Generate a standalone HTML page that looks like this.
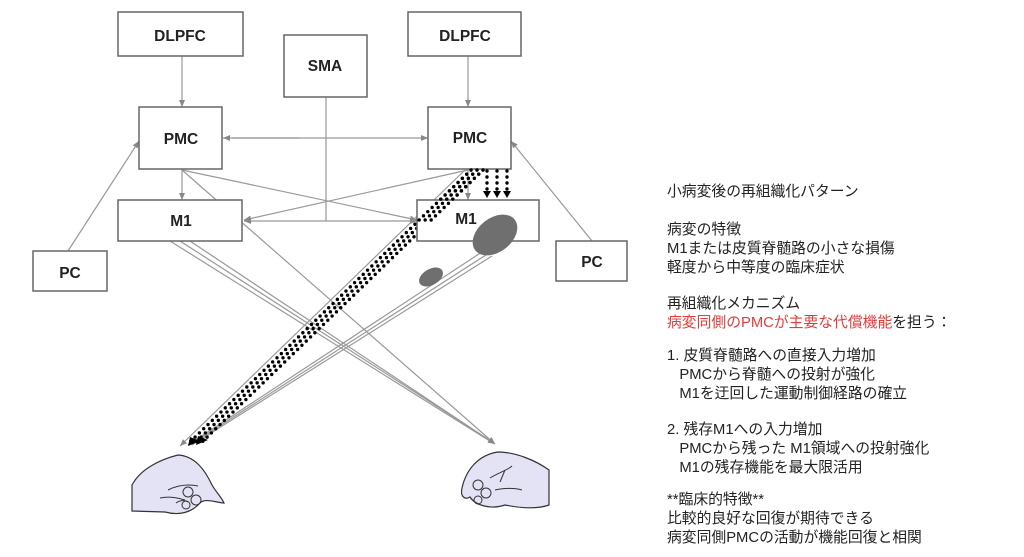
<!DOCTYPE html>
<html><head><meta charset="utf-8"><style>
body{margin:0;background:#fff;width:1024px;height:557px;overflow:hidden;position:relative;font-family:"Liberation Sans","Noto Sans CJK JP",sans-serif}
.t{position:absolute;left:667px;font-size:14.8px;color:#222;line-height:19px;white-space:nowrap}
</style></head><body>
<svg width="1024" height="557" style="position:absolute;left:0;top:0">
<defs>
<marker id="a" markerWidth="8" markerHeight="8" refX="7" refY="4" orient="auto" markerUnits="userSpaceOnUse"><path d="M0,1 L7,4 L0,7z" fill="#888"/></marker>
</defs>
<g stroke="#999" stroke-width="1.2" fill="none">
<line x1="182" y1="56" x2="182" y2="107" marker-end="url(#a)"/>
<line x1="468" y1="56" x2="468" y2="107" marker-end="url(#a)"/>
<line x1="232" y1="138" x2="428" y2="138" marker-end="url(#a)"/>
<line x1="300" y1="138" x2="223" y2="138" marker-end="url(#a)"/>
<line x1="326" y1="97" x2="326" y2="221"/>
<line x1="326" y1="221" x2="244" y2="221" marker-end="url(#a)"/>
<line x1="326" y1="221" x2="417" y2="221" marker-end="url(#a)"/>
<line x1="182" y1="169" x2="182" y2="200" marker-end="url(#a)"/>
<line x1="468" y1="169" x2="468" y2="200" marker-end="url(#a)"/>
<line x1="182" y1="170" x2="417" y2="220" marker-end="url(#a)"/>
<line x1="468" y1="170" x2="244" y2="220" marker-end="url(#a)"/>
<line x1="68" y1="251" x2="139" y2="141" marker-end="url(#a)"/>
<line x1="592" y1="241" x2="511" y2="141" marker-end="url(#a)"/>
<line x1="182" y1="170" x2="495" y2="444" marker-end="url(#a)"/>
<line x1="170" y1="241" x2="493" y2="443"/>
<line x1="180" y1="241" x2="494" y2="443"/>
<line x1="190" y1="241" x2="495" y2="444" marker-end="url(#a)"/>
<line x1="465" y1="170" x2="180" y2="446" marker-end="url(#a)"/>
<line x1="485" y1="250" x2="188" y2="445"/>
<line x1="489" y1="253" x2="190" y2="445"/>
<line x1="492" y1="256" x2="192" y2="445"/>
</g>
<g stroke="#000" stroke-width="3.4" stroke-linecap="round" stroke-dasharray="0 6" fill="none">
<line x1="471" y1="170" x2="190" y2="442"/>
<line x1="477" y1="170" x2="196" y2="442"/>
<line x1="483" y1="170" x2="202" y2="442"/>
</g>
<path d="M190,437 L200,441 L188,446z M198,436 L208,440 L196,445z" fill="#000"/>
<g stroke="#666" stroke-width="1.5" fill="#fff">
<rect x="118" y="12" width="125" height="44"/>
<rect x="408" y="12" width="113" height="44"/>
<rect x="284" y="35" width="83" height="62"/>
<rect x="139" y="107" width="83" height="62"/>
<rect x="428" y="107" width="83" height="62"/>
<rect x="118" y="200" width="124" height="41"/>
<rect x="417" y="200" width="122" height="41"/>
<rect x="33" y="251" width="74" height="40"/>
<rect x="556" y="241" width="71" height="40"/>
</g>
<g stroke="#000" stroke-width="3.4" stroke-linecap="round" stroke-dasharray="0 6" fill="none">
<line x1="471" y1="170" x2="415" y2="224"/>
<line x1="477" y1="170" x2="421" y2="224"/>
<line x1="483" y1="170" x2="427" y2="224"/>
<line x1="487" y1="171" x2="487" y2="190"/>
<line x1="497" y1="171" x2="497" y2="190"/>
<line x1="507" y1="171" x2="507" y2="190"/>
</g>
<path d="M483,191 L491,191 L487,198z M493,191 L501,191 L497,198z M503,191 L511,191 L507,198z" fill="#000"/>
<ellipse cx="495" cy="235" rx="25" ry="17" transform="rotate(-38 495 235)" fill="#6f6f6f"/>
<ellipse cx="431" cy="277" rx="13" ry="8" transform="rotate(-30 431 277)" fill="#6f6f6f"/>
<g font-family="Liberation Sans, sans-serif" font-size="15.5" font-weight="bold" fill="#222" text-anchor="middle">
<text x="180" y="41">DLPFC</text>
<text x="465" y="41">DLPFC</text>
<text x="325" y="71">SMA</text>
<text x="181" y="144">PMC</text>
<text x="470" y="143">PMC</text>
<text x="181" y="226">M1</text>
<text x="466" y="224">M1</text>
<text x="70" y="278">PC</text>
<text x="592" y="267">PC</text>
</g>
<g stroke="#333" stroke-width="1.2" fill="#e4e3f6">
<path d="M132,485 C140,470 158,460 178,455 C195,456 205,470 212,485 C216,492 222,498 224,503 C214,502 205,498 200,503 C192,512 180,516 165,512 L132,511 Z"/>
<path d="M549,470 C535,460 515,452 498,452 C478,455 466,470 462,488 C460,497 465,500 470,497 C475,505 490,510 505,505 C515,507 535,510 549,505 Z"/>
</g>
<g stroke="#333" stroke-width="1" fill="none">
<circle cx="188" cy="492" r="5"/><circle cx="196" cy="500" r="5"/><circle cx="186" cy="505" r="4"/><path d="M168,490 C178,485 188,484 198,486 M160,498 C170,496 178,498 185,500 M176,503 C180,500 185,500 188,502"/>
<circle cx="478" cy="485" r="5"/><circle cx="486" cy="493" r="5"/><circle cx="478" cy="500" r="4"/><path d="M490,478 C500,472 508,470 512,466 M495,490 C505,488 515,488 522,490 M500,482 L505,470"/>
</g>
</svg>
<div class="t" style="top:183px">小病変後の再組織化パターン</div>
<div class="t" style="top:221px">病変の特徴</div>
<div class="t" style="top:240px">M1または皮質脊髄路の小さな損傷</div>
<div class="t" style="top:259px">軽度から中等度の臨床症状</div>
<div class="t" style="top:295px">再組織化メカニズム</div>
<div class="t" style="top:314px"><span style="color:#e83a3a">病変同側のPMCが主要な代償機能</span>を担う：</div>
<div class="t" style="top:347px">1. 皮質脊髄路への直接入力増加</div>
<div class="t" style="top:366px">&nbsp;&nbsp;&nbsp;PMCから脊髄への投射が強化</div>
<div class="t" style="top:385px">&nbsp;&nbsp;&nbsp;M1を迂回した運動制御経路の確立</div>
<div class="t" style="top:421px">2. 残存M1への入力増加</div>
<div class="t" style="top:440px">&nbsp;&nbsp;&nbsp;PMCから残った M1領域への投射強化</div>
<div class="t" style="top:459px">&nbsp;&nbsp;&nbsp;M1の残存機能を最大限活用</div>
<div class="t" style="top:491px">**臨床的特徴**</div>
<div class="t" style="top:510px">比較的良好な回復が期待できる</div>
<div class="t" style="top:529px">病変同側PMCの活動が機能回復と相関</div>
</body></html>
